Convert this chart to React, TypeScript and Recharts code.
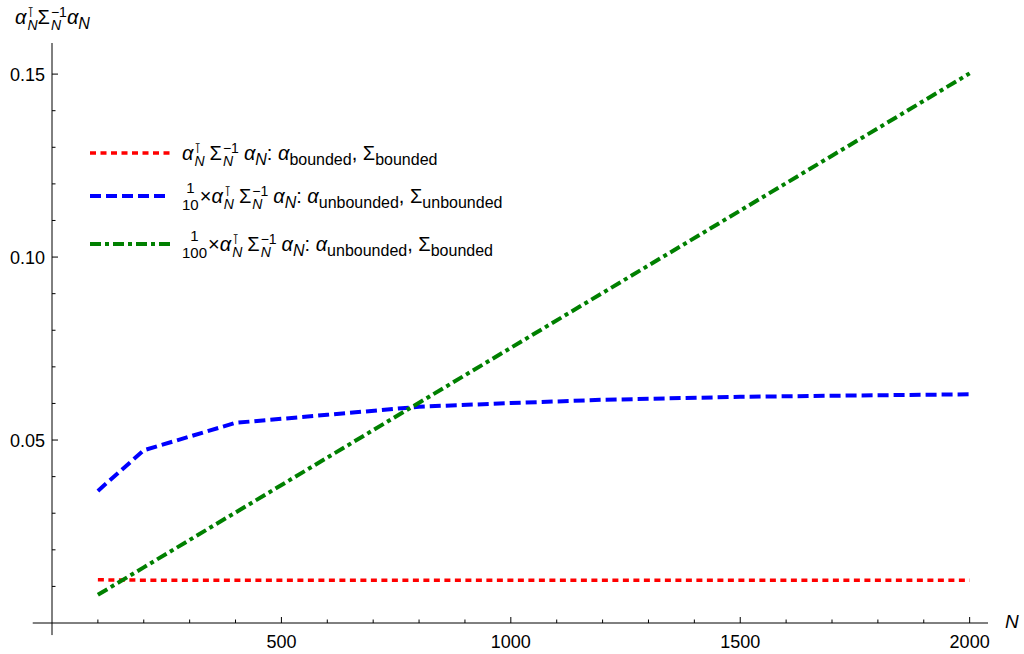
import React from 'react'
import {
  LineChart,
  Line,
  XAxis,
  YAxis,
  Legend,
  ReferenceLine,
} from 'recharts'

const FONT = '"Liberation Sans", Arial, sans-serif'

// sample sizes N
const nValues = [100, 200, 400, 600, 800, 1000, 1200, 1500, 1700, 2000]
// alpha bounded, Sigma bounded
const boundedValues = [0.0118, 0.0117, 0.0117, 0.0117, 0.0117, 0.0117, 0.0117, 0.0117, 0.0117, 0.0117]
// 1/10 x ... alpha unbounded, Sigma unbounded
const unboundedValues = [0.0361, 0.0472, 0.0547, 0.0569, 0.0591, 0.0601, 0.061, 0.0618, 0.0621, 0.0625]
// 1/100 x ... alpha unbounded, Sigma bounded
const mixedValues = [0.0077, 0.0152, 0.0302, 0.0452, 0.0602, 0.0752, 0.0902, 0.1127, 0.1277, 0.1502]

const xTicks = [100, 200, 300, 400, 500, 600, 700, 800, 900, 1000, 1100, 1200, 1300, 1400, 1500, 1600, 1700, 1800, 1900, 2000]
const xMajorTicks = [500, 1000, 1500, 2000]
const yTicks = [0.01, 0.02, 0.03, 0.04, 0.05, 0.06, 0.07, 0.08, 0.09, 0.1, 0.11, 0.12, 0.13, 0.14, 0.15]
const yMajorTicks = [0.05, 0.1, 0.15]

const data = nValues.map((n, i) => ({
  n,
  bounded: boundedValues[i],
  unbounded: unboundedValues[i],
  mixed: mixedValues[i],
}))

const series = [
  { key: 'bounded', color: '#ff0000', dash: '6 4.5', width: 3.5 },
  { key: 'unbounded', color: '#0000ff', dash: '11 5', width: 4 },
  { key: 'mixed', color: '#008000', dash: '11 4 4 4', width: 4 },
]

const SupSub = ({ base, sup, sub, italic = true }: any) => (
  <span style={{ display: 'inline-flex', alignItems: 'center' }}>
    <span style={{ fontStyle: italic ? 'italic' : 'normal' }}>{base}</span>
    <span
      style={{
        display: 'inline-flex',
        flexDirection: 'column',
        fontSize: 14,
        lineHeight: '13px',
        marginLeft: 1,
        marginTop: 3,
      }}
    >
      <span>{sup}</span>
      <span style={{ fontStyle: 'italic' }}>{sub}</span>
    </span>
  </span>
)

const Sub = ({ base, sub, italic = true }: any) => (
  <span>
    <span style={{ fontStyle: italic ? 'italic' : 'normal' }}>{base}</span>
    <span style={{ fontSize: 16, position: 'relative', top: 5 }}>{sub}</span>
  </span>
)

const Frac = ({ den }: any) => (
  <span
    style={{
      display: 'inline-flex',
      flexDirection: 'column',
      alignItems: 'center',
      fontSize: 15,
      lineHeight: '17px',
      marginRight: 1,
    }}
  >
    <span>1</span>
    <span>{den}</span>
  </span>
)

const Quadratic = () => (
  <span style={{ display: 'inline-flex', alignItems: 'center', gap: 5 }}>
    <SupSub base="α" sup={'\u22BA'} sub="N" />
    <SupSub base="Σ" sup="−1" sub="N" italic={false} />
    <Sub base="α" sub={<i>N</i>} />
  </span>
)

const legendLabels: Record<string, React.ReactNode> = {
  bounded: (
    <>
      <Quadratic />
      <span>:&nbsp;</span>
      <Sub base="α" sub="bounded" />
      <span>,&nbsp;</span>
      <Sub base="Σ" sub="bounded" italic={false} />
    </>
  ),
  unbounded: (
    <>
      <Frac den="10" />
      <span>×</span>
      <Quadratic />
      <span>:&nbsp;</span>
      <Sub base="α" sub="unbounded" />
      <span>,&nbsp;</span>
      <Sub base="Σ" sub="unbounded" italic={false} />
    </>
  ),
  mixed: (
    <>
      <Frac den="100" />
      <span>×</span>
      <Quadratic />
      <span>:&nbsp;</span>
      <Sub base="α" sub="unbounded" />
      <span>,&nbsp;</span>
      <Sub base="Σ" sub="bounded" italic={false} />
    </>
  ),
}

const rowHeights = [40, 46, 50]

const renderLegend = () => (
  <div style={{ fontFamily: FONT, fontSize: 20, color: '#000' }}>
    {series.map((s, i) => (
      <div key={s.key} style={{ display: 'flex', alignItems: 'center', height: rowHeights[i] }}>
        <svg width={80} height={10}>
          <line x1={0} x2={80} y1={5} y2={5} stroke={s.color} strokeWidth={s.width} strokeDasharray={s.dash} />
        </svg>
        <span style={{ marginLeft: 12, display: 'inline-flex', alignItems: 'center' }}>{legendLabels[s.key]}</span>
      </div>
    ))}
  </div>
)

const XTick = ({ x, y, payload }: any) => {
  const major = xMajorTicks.includes(payload.value)
  return (
    <g>
      <line x1={x} x2={x} y1={y} y2={y - (major ? 6 : 3.5)} stroke="#000" strokeWidth={1} />
      {major && (
        <text x={x} y={y + 25} textAnchor="middle" fontSize={18} fontFamily={FONT} fill="#000">
          {payload.value}
        </text>
      )}
    </g>
  )
}

const YTick = ({ x, y, payload }: any) => {
  const major = yMajorTicks.some((t) => Math.abs(t - payload.value) < 1e-9)
  return (
    <g>
      <line x1={x} x2={x + (major ? 6 : 3.5)} y1={y} y2={y} stroke="#000" strokeWidth={1} />
      {major && (
        <text x={x - 7} y={y + 6.5} textAnchor="end" fontSize={18} fontFamily={FONT} fill="#000">
          {payload.value.toFixed(2)}
        </text>
      )}
    </g>
  )
}

export default function App() {
  return (
    <div
      style={{
        position: 'absolute',
        left: 0,
        top: 0,
        width: 1024,
        height: 654,
        background: '#fff',
        fontFamily: FONT,
      }}
    >
      <LineChart width={1024} height={654} data={data} margin={{ top: 43, right: 36, bottom: 1, left: 0 }}>
        <XAxis
          dataKey="n"
          type="number"
          domain={[0, 2040]}
          ticks={xTicks}
          interval={0}
          height={30}
          tickSize={0}
          tickMargin={0}
          tickLine={false}
          tick={<XTick />}
          axisLine={{ stroke: '#000', strokeWidth: 1 }}
        />
        <YAxis
          type="number"
          domain={[0, 0.1585]}
          ticks={yTicks}
          interval={0}
          width={52}
          tickSize={0}
          tickMargin={0}
          tickLine={false}
          tick={<YTick />}
          axisLine={{ stroke: '#000', strokeWidth: 1 }}
        />
        {/* axis stubs past the origin */}
        <ReferenceLine segment={[{ x: -42, y: 0 }, { x: 0, y: 0 }]} stroke="#000" strokeWidth={1} ifOverflow="visible" />
        <ReferenceLine segment={[{ x: 0, y: -0.0033 }, { x: 0, y: 0 }]} stroke="#000" strokeWidth={1} ifOverflow="visible" />
        <Legend
          layout="vertical"
          align="center"
          verticalAlign="middle"
          content={renderLegend}
          wrapperStyle={{ left: 90, top: 133, width: 'auto' }}
        />
        {series.map((s) => (
          <Line
            key={s.key}
            type="linear"
            dataKey={s.key}
            stroke={s.color}
            strokeWidth={s.width}
            strokeDasharray={s.dash}
            dot={false}
            activeDot={false}
            isAnimationActive={false}
          />
        ))}
      </LineChart>
      <div style={{ position: 'absolute', left: 15, top: 3, fontSize: 20, color: '#000' }}>
        <span style={{ display: 'inline-flex', alignItems: 'center' }}>
          <SupSub base="α" sup={'\u22BA'} sub="N" />
          <SupSub base="Σ" sup="−1" sub="N" italic={false} />
          <Sub base="α" sub={<i>N</i>} />
        </span>
      </div>
      <div style={{ position: 'absolute', left: 1005, top: 611, fontSize: 19, fontStyle: 'italic', color: '#000' }}>
        N
      </div>
    </div>
  )
}
